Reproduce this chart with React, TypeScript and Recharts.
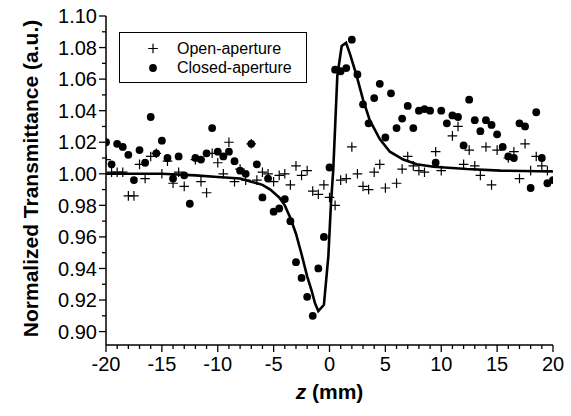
import React from 'react';
import { ComposedChart, Scatter, Line, XAxis, YAxis, Legend } from 'recharts';

const openAperture = [
  { z: -20, t: 1.009 }, { z: -19.5, t: 1.001 }, { z: -19, t: 1.001 }, { z: -18.5, t: 1.001 },
  { z: -18, t: 0.986 }, { z: -17.5, t: 0.986 }, { z: -17, t: 1.006 }, { z: -16.5, t: 0.997 },
  { z: -16, t: 1.011 }, { z: -15.5, t: 1.013 }, { z: -15, t: 1.0 }, { z: -14.5, t: 1.008 },
  { z: -14, t: 0.994 }, { z: -13.5, t: 1.001 }, { z: -13, t: 0.992 }, { z: -12, t: 1.009 },
  { z: -11.5, t: 0.995 }, { z: -11, t: 0.988 }, { z: -10.5, t: 1.013 }, { z: -10, t: 1.007 },
  { z: -9.5, t: 1.0 }, { z: -9, t: 1.02 }, { z: -8.5, t: 0.995 }, { z: -8, t: 1.003 },
  { z: -7.5, t: 0.996 }, { z: -7, t: 1.019 }, { z: -6.5, t: 0.996 }, { z: -6, t: 1.001 },
  { z: -5.5, t: 1.0 }, { z: -5, t: 0.995 }, { z: -4.5, t: 0.999 }, { z: -4, t: 1.0 },
  { z: -3.5, t: 0.993 }, { z: -3, t: 1.005 }, { z: -2.5, t: 0.999 }, { z: -2, t: 1.002 },
  { z: -1.5, t: 0.989 }, { z: -1, t: 0.987 }, { z: -0.5, t: 0.993 }, { z: 0, t: 0.985 },
  { z: 0.5, t: 0.98 }, { z: 1, t: 0.996 }, { z: 1.5, t: 0.997 }, { z: 2, t: 1.017 },
  { z: 2.5, t: 1.0 }, { z: 3, t: 0.992 }, { z: 3.5, t: 0.99 }, { z: 4, t: 1.001 },
  { z: 4.5, t: 1.006 }, { z: 5, t: 0.991 }, { z: 6, t: 0.994 }, { z: 6.5, t: 1.003 },
  { z: 7, t: 1.011 }, { z: 7.5, t: 1.005 }, { z: 8, t: 1.002 }, { z: 8.5, t: 1.001 },
  { z: 9.5, t: 1.014 }, { z: 10, t: 1.002 }, { z: 11, t: 1.024 }, { z: 11.5, t: 1.03 },
  { z: 12, t: 1.006 }, { z: 12.5, t: 1.015 }, { z: 13, t: 1.005 }, { z: 13.5, t: 0.999 },
  { z: 14, t: 1.017 }, { z: 14.5, t: 0.993 }, { z: 15, t: 1.015 }, { z: 16, t: 1.01 },
  { z: 16.5, t: 1.014 }, { z: 17, t: 0.997 }, { z: 17.5, t: 1.019 }, { z: 18, t: 1.002 },
  { z: 18.5, t: 1.011 }, { z: 19, t: 1.005 }, { z: 19.5, t: 1.002 },
];

const closedAperture = [
  { z: -20, t: 1.02 }, { z: -19.5, t: 1.006 }, { z: -19, t: 1.019 }, { z: -18.5, t: 1.017 },
  { z: -18, t: 1.012 }, { z: -17.5, t: 0.996 }, { z: -17, t: 1.015 }, { z: -16.5, t: 1.007 },
  { z: -16, t: 1.036 }, { z: -15.5, t: 1.013 }, { z: -15, t: 1.021 }, { z: -14.5, t: 1.01 },
  { z: -14, t: 0.997 }, { z: -13.5, t: 1.011 }, { z: -13, t: 0.999 }, { z: -12.5, t: 0.981 },
  { z: -12, t: 1.01 }, { z: -11.5, t: 1.009 }, { z: -11, t: 1.013 }, { z: -10.5, t: 1.029 },
  { z: -10, t: 1.014 }, { z: -9.5, t: 1.011 }, { z: -9, t: 1.014 }, { z: -8.5, t: 1.008 },
  { z: -8, t: 1.002 }, { z: -7.5, t: 1.0 }, { z: -7, t: 1.019 }, { z: -6.5, t: 1.006 },
  { z: -6, t: 0.985 }, { z: -5.5, t: 0.997 }, { z: -5, t: 0.976 }, { z: -4.5, t: 0.978 },
  { z: -4, t: 0.984 }, { z: -3.5, t: 0.97 }, { z: -3, t: 0.944 }, { z: -2.5, t: 0.934 },
  { z: -2, t: 0.922 }, { z: -1.5, t: 0.91 }, { z: -1, t: 0.94 }, { z: -0.5, t: 0.96 },
  { z: 0, t: 1.004 }, { z: 0.5, t: 1.066 }, { z: 1, t: 1.065 }, { z: 1.5, t: 1.067 },
  { z: 2, t: 1.085 }, { z: 2.5, t: 1.063 }, { z: 3, t: 1.044 }, { z: 3.5, t: 1.032 },
  { z: 4, t: 1.048 }, { z: 4.5, t: 1.057 }, { z: 5, t: 1.023 }, { z: 5.5, t: 1.051 },
  { z: 6, t: 1.029 }, { z: 6.5, t: 1.035 }, { z: 7, t: 1.043 }, { z: 7.5, t: 1.029 },
  { z: 8, t: 1.04 }, { z: 8.5, t: 1.041 }, { z: 9, t: 1.04 }, { z: 9.5, t: 1.007 },
  { z: 10, t: 1.04 }, { z: 10.5, t: 1.032 }, { z: 11, t: 1.037 }, { z: 11.5, t: 1.036 },
  { z: 12, t: 1.018 }, { z: 12.5, t: 1.047 }, { z: 13, t: 1.034 }, { z: 13.5, t: 1.027 },
  { z: 14, t: 1.034 }, { z: 14.5, t: 1.031 }, { z: 15, t: 1.025 }, { z: 15.5, t: 1.017 },
  { z: 16, t: 1.011 }, { z: 16.5, t: 1.01 }, { z: 17, t: 1.032 }, { z: 17.5, t: 1.03 },
  { z: 18, t: 0.991 }, { z: 18.5, t: 1.039 }, { z: 19, t: 1.01 }, { z: 19.5, t: 0.994 },
  { z: 20, t: 0.996 },
];

const fitCurve = [
  { z: -20, t: 1.0 }, { z: -15, t: 1.0 }, { z: -12, t: 0.999 }, { z: -10, t: 0.998 },
  { z: -8, t: 0.997 }, { z: -7, t: 0.995 }, { z: -6, t: 0.993 }, { z: -5.3, t: 0.99 },
  { z: -4.5, t: 0.985 }, { z: -4, t: 0.98 }, { z: -3.5, t: 0.972 }, { z: -3, t: 0.962 },
  { z: -2.5, t: 0.949 }, { z: -2, t: 0.935 }, { z: -1.6, t: 0.926 }, { z: -1.3, t: 0.918 },
  { z: -1.0, t: 0.913 }, { z: -0.5, t: 0.917 }, { z: -0.1, t: 0.948 }, { z: 0.13, t: 0.981 },
  { z: 0.34, t: 1.003 }, { z: 0.7, t: 1.062 }, { z: 1.09, t: 1.081 }, { z: 1.48, t: 1.083 },
  { z: 1.83, t: 1.076 }, { z: 2.43, t: 1.062 }, { z: 3.0, t: 1.047 }, { z: 3.6, t: 1.034 },
  { z: 4.5, t: 1.022 }, { z: 5.4, t: 1.014 }, { z: 6.6, t: 1.009 }, { z: 7.8, t: 1.006 },
  { z: 9.3, t: 1.0045 }, { z: 12.3, t: 1.003 }, { z: 15.3, t: 1.002 }, { z: 20, t: 1.0015 },
];

const xTicks = [
  -20, -19, -18, -17, -16, -15, -14, -13, -12, -11, -10, -9, -8, -7, -6, -5, -4, -3, -2, -1, 0,
  1, 2, 3, 4, 5, 6, 7, 8, 9, 10, 11, 12, 13, 14, 15, 16, 17, 18, 19, 20,
];
const xLabelTicks = [-20, -15, -10, -5, 0, 5, 10, 15, 20];
const yTicks = [
  0.9, 0.91, 0.92, 0.93, 0.94, 0.95, 0.96, 0.97, 0.98, 0.99, 1.0,
  1.01, 1.02, 1.03, 1.04, 1.05, 1.06, 1.07, 1.08, 1.09, 1.1,
];
const yLabelTicks = ['0.90', '0.92', '0.94', '0.96', '0.98', '1.00', '1.02', '1.04', '1.06', '1.08', '1.10'];

const FONT = '"Liberation Sans", Arial, sans-serif';

const isYMajor = (v: number) => yLabelTicks.includes(v.toFixed(2));
const isXMajor = (v: number) => xLabelTicks.includes(v);

const BottomTick = (props: any) => {
  const { x, y, payload } = props;
  const major = isXMajor(payload.value);
  return (
    <g>
      <line x1={x} x2={x} y1={y} y2={y + (major ? 7 : 4)} stroke="#000" strokeWidth={1.3} />
      {major && (
        <text x={x} y={y + 26} textAnchor="middle" fontSize={20} fontFamily={FONT} fill="#000">
          {payload.value}
        </text>
      )}
    </g>
  );
};

const TopTick = (props: any) => {
  const { x, y, payload } = props;
  const major = isXMajor(payload.value);
  return <line x1={x} x2={x} y1={y} y2={y + (major ? 7 : 4)} stroke="#000" strokeWidth={1.3} />;
};

const LeftTick = (props: any) => {
  const { x, y, payload } = props;
  const major = isYMajor(payload.value);
  return (
    <g>
      <line x1={x - (major ? 7 : 4)} x2={x} y1={y} y2={y} stroke="#000" strokeWidth={1.3} />
      {major && (
        <text x={x - 9} y={y} dy="0.36em" textAnchor="end" fontSize={20} fontFamily={FONT} fill="#000">
          {payload.value.toFixed(2)}
        </text>
      )}
    </g>
  );
};

const RightTick = (props: any) => {
  const { x, y, payload } = props;
  const major = isYMajor(payload.value);
  return <line x1={x - (major ? 7 : 4)} x2={x} y1={y} y2={y} stroke="#000" strokeWidth={1.3} />;
};

const CrossShape = (props: any) => {
  const { cx, cy } = props;
  if (cx == null || cy == null) return null;
  const s = 4.8;
  return (
    <path
      d={`M${cx - s},${cy}H${cx + s}M${cx},${cy - s}V${cy + s}`}
      stroke="#000"
      strokeWidth={1.2}
      fill="none"
    />
  );
};

const DotShape = (props: any) => {
  const { cx, cy } = props;
  if (cx == null || cy == null) return null;
  return <circle cx={cx} cy={cy} r={3.9} fill="#000" />;
};

const LegendBox = () => (
  <div
    style={{
      width: 188,
      height: 51,
      border: '1px solid #000',
      boxSizing: 'border-box',
      background: '#fff',
      fontFamily: FONT,
      fontSize: 16,
      position: 'relative',
    }}
  >
    <svg width={40} height={49} style={{ position: 'absolute', left: 14, top: 0 }}>
      <path d="M14.2,15.5H23.8M19,10.7V20.3" stroke="#000" strokeWidth={1.2} fill="none" />
      <circle cx={19} cy={35} r={3.9} fill="#000" />
    </svg>
    <div style={{ position: 'absolute', left: 57, top: 6, lineHeight: '19px' }}>Open-aperture</div>
    <div style={{ position: 'absolute', left: 57, top: 25, lineHeight: '19px' }}>Closed-aperture</div>
  </div>
);

const XTitle = (props: any) => {
  const vb = props.viewBox || {};
  return (
    <text
      x={vb.x + vb.width / 2}
      y={vb.y + 54}
      textAnchor="middle"
      fontSize={21}
      fontWeight="bold"
      fontFamily={FONT}
      fill="#000"
    >
      <tspan fontStyle="italic">z</tspan> (mm)
    </text>
  );
};

const YTitle = (props: any) => {
  const vb = props.viewBox || {};
  const cx = 30;
  const cy = vb.y + vb.height / 2 - 2;
  return (
    <text
      x={cx}
      y={cy}
      transform={`rotate(-90 ${cx} ${cy})`}
      textAnchor="middle"
      dominantBaseline="central"
      fontSize={21}
      fontWeight="bold"
      fontFamily={FONT}
      fill="#000"
    >
      Normalized Transmittance (a.u.)
    </text>
  );
};

export default function App() {
  return (
    <div style={{ position: 'absolute', left: 0, top: 0, width: 571, height: 416, background: '#fff' }}>
      <ComposedChart width={571} height={416} margin={{ top: 16, right: 18, bottom: 41, left: 46 }}>
        <XAxis
          xAxisId={0}
          dataKey="z"
          type="number"
          domain={[-20, 20]}
          ticks={xTicks}
          interval={0}
          allowDataOverflow
          height={30}
          tickSize={0}
          tickMargin={0}
          tickLine={false}
          axisLine={{ stroke: '#000', strokeWidth: 1.5 }}
          tick={<BottomTick />}
          label={<XTitle />}
        />
        <XAxis
          xAxisId="top"
          orientation="top"
          dataKey="z"
          type="number"
          domain={[-20, 20]}
          ticks={xTicks}
          interval={0}
          allowDataOverflow
          height={0}
          tickSize={0}
          tickMargin={0}
          tickLine={false}
          axisLine={{ stroke: '#000', strokeWidth: 1.5 }}
          tick={<TopTick />}
        />
        <YAxis
          yAxisId={0}
          dataKey="t"
          type="number"
          domain={[0.8915, 1.1]}
          ticks={yTicks}
          interval={0}
          allowDataOverflow
          width={60}
          tickSize={0}
          tickMargin={0}
          tickLine={false}
          axisLine={{ stroke: '#000', strokeWidth: 1.5 }}
          tick={<LeftTick />}
          label={<YTitle />}
        />
        <YAxis
          yAxisId="right"
          orientation="right"
          type="number"
          domain={[0.8915, 1.1]}
          ticks={yTicks}
          interval={0}
          allowDataOverflow
          width={0}
          tickSize={0}
          tickMargin={0}
          tickLine={false}
          axisLine={{ stroke: '#000', strokeWidth: 1.5 }}
          tick={<RightTick />}
        />
        <Legend
          layout="horizontal"
          verticalAlign="middle"
          align="center"
          wrapperStyle={{ top: 32, left: 119, width: 188, height: 51 }}
          content={<LegendBox />}
        />
        <Line
          data={fitCurve}
          dataKey="t"
          type="linear"
          stroke="#000"
          strokeWidth={2.6}
          dot={false}
          activeDot={false}
          isAnimationActive={false}
          legendType="none"
        />
        <Scatter
          name="Open-aperture"
          data={openAperture}
          dataKey="t"
          shape={<CrossShape />}
          isAnimationActive={false}
        />
        <Scatter
          name="Closed-aperture"
          data={closedAperture}
          dataKey="t"
          shape={<DotShape />}
          isAnimationActive={false}
        />
      </ComposedChart>
    </div>
  );
}
